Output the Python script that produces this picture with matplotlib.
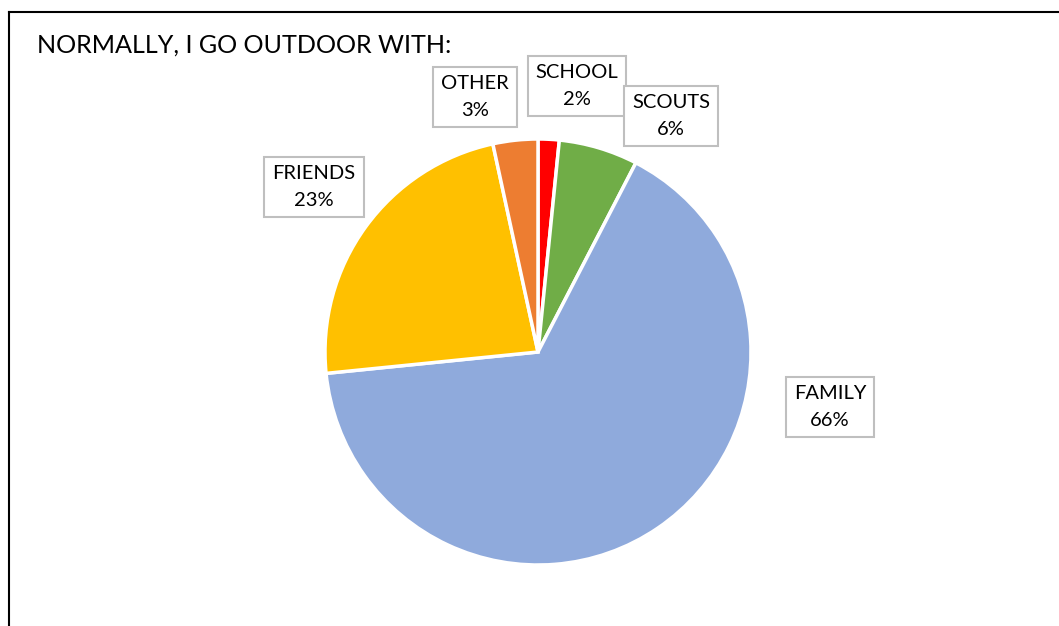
import matplotlib
matplotlib.use('Agg')
import matplotlib.pyplot as plt
from matplotlib.lines import Line2D

labels = ['SCHOOL', 'SCOUTS', 'FAMILY', 'FRIENDS', 'OTHER']
shares = [1.6, 6.0, 65.8, 23.2, 3.4]
colors = ['#FF0000', '#70AD47', '#8FAADC', '#FFC000', '#ED7D31']
title = 'NORMALLY, I GO OUTDOOR WITH:'

# label box centres, in pixels from the top-left corner
labelPos = [(577, 86), (671, 116), (830, 407), (314, 187), (475, 97)]

W, H = 1059, 626
plt.rcParams['font.family'] = ['Lato', 'DejaVu Sans']

fig = plt.figure(figsize=(W / 100, H / 100), dpi=100)
ax = fig.add_axes([0, 0, 1, 1])

ax.pie(shares, colors=colors, startangle=90, counterclock=False,
       center=(538, H - 352), radius=213, frame=True,
       wedgeprops=dict(edgecolor='white', linewidth=2.5))
ax.set_xlim(0, W)
ax.set_ylim(0, H)
ax.set_aspect('equal')
ax.axis('off')

total = sum(shares)
for name, val, (px, py) in zip(labels, shares, labelPos):
    ax.text(px, H - py, '%s\n%d%%' % (name, round(val / total * 100)),
            ha='center', va='center', fontsize=14.5, linespacing=1.7,
            color='black',
            bbox=dict(boxstyle='square,pad=0.4', facecolor='white',
                      edgecolor='#BFBFBF', linewidth=1.5))

ax.text(37, H - 45, title, ha='left', va='center', fontsize=18.1,
        color='black')

# chart frame: only left and top edges fall inside the picture
fig.add_artist(Line2D([8.5 / W, 8.5 / W], [0, 1 - 12 / H],
                      transform=fig.transFigure, color='black', lw=1.5))
fig.add_artist(Line2D([8.5 / W, 1], [1 - 12 / H, 1 - 12 / H],
                      transform=fig.transFigure, color='black', lw=1.5))

fig.savefig('out.png', dpi=100, facecolor='white')
